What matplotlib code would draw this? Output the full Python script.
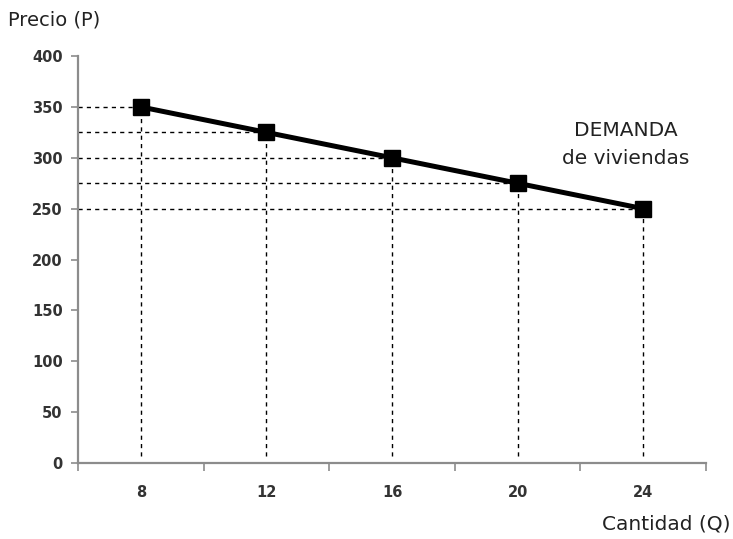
import matplotlib
matplotlib.use('Agg')
import matplotlib.pyplot as plt

# demand schedule for housing
cantidad = ['8', '12', '16', '20', '24']
precio = [350, 325, 300, 275, 250]
y_ticks = [0, 50, 100, 150, 200, 250, 300, 350, 400]

axis_grey = '#8c8c8c'
label_font = ['DejaVu Sans']

fig = plt.figure(figsize=(7.33, 5.39), dpi=100)
ax = fig.add_axes([0.1064, 0.141, 0.8568, 0.755])

x = list(range(len(cantidad)))

# dashed guide lines from each point to both axes
for i, p in enumerate(precio):
    ax.plot([-0.5, i], [p, p], linestyle=(0, (3, 3)), color='black', lw=1.0, zorder=1)
    ax.plot([i, i], [7, p], linestyle=(0, (3, 3)), color='black', lw=1.0, zorder=1)

ax.plot(x, precio, color='black', lw=3.6, marker='s', markersize=12,
        markerfacecolor='black', zorder=3)

ax.set_xlim(-0.5, len(cantidad) - 0.5)
ax.set_ylim(0, 400)

# category axis: ticks between categories, labels centred
ax.set_xticks([i - 0.5 for i in range(len(cantidad) + 1)])
ax.set_xticklabels([])
ax.set_xticks(x, minor=True)
ax.set_xticklabels(cantidad, minor=True, fontsize=10.5, fontweight='bold', color='#333333')
ax.tick_params(axis='x', which='major', length=6, width=1.2, color=axis_grey, direction='out')
ax.tick_params(axis='x', which='minor', length=0, pad=16)

ax.set_yticks(y_ticks)
ax.set_yticklabels([str(v) for v in y_ticks], fontsize=10.5, fontweight='bold', color='#333333')
ax.tick_params(axis='y', length=5, width=1.2, color=axis_grey, direction='out', pad=6)

for side in ['top', 'right']:
    ax.spines[side].set_visible(False)
for side in ['left', 'bottom']:
    ax.spines[side].set_color(axis_grey)
    ax.spines[side].set_linewidth(1.6)

fig.text(8 / 733, 1 - 20 / 539, 'Precio (P)', fontsize=14, family=label_font,
         color='#222222', ha='left', va='center')
fig.text(730 / 733, 1 - 524 / 539, 'Cantidad (Q)', fontsize=14.5, family=label_font,
         color='#222222', ha='right', va='center')
fig.text(626 / 733, 1 - 131 / 539, 'DEMANDA', fontsize=14.5, family=label_font,
         color='#222222', ha='center', va='center')
fig.text(626 / 733, 1 - 159 / 539, 'de viviendas', fontsize=14.5, family=label_font,
         color='#222222', ha='center', va='center')

fig.savefig('out.png', dpi=100)
